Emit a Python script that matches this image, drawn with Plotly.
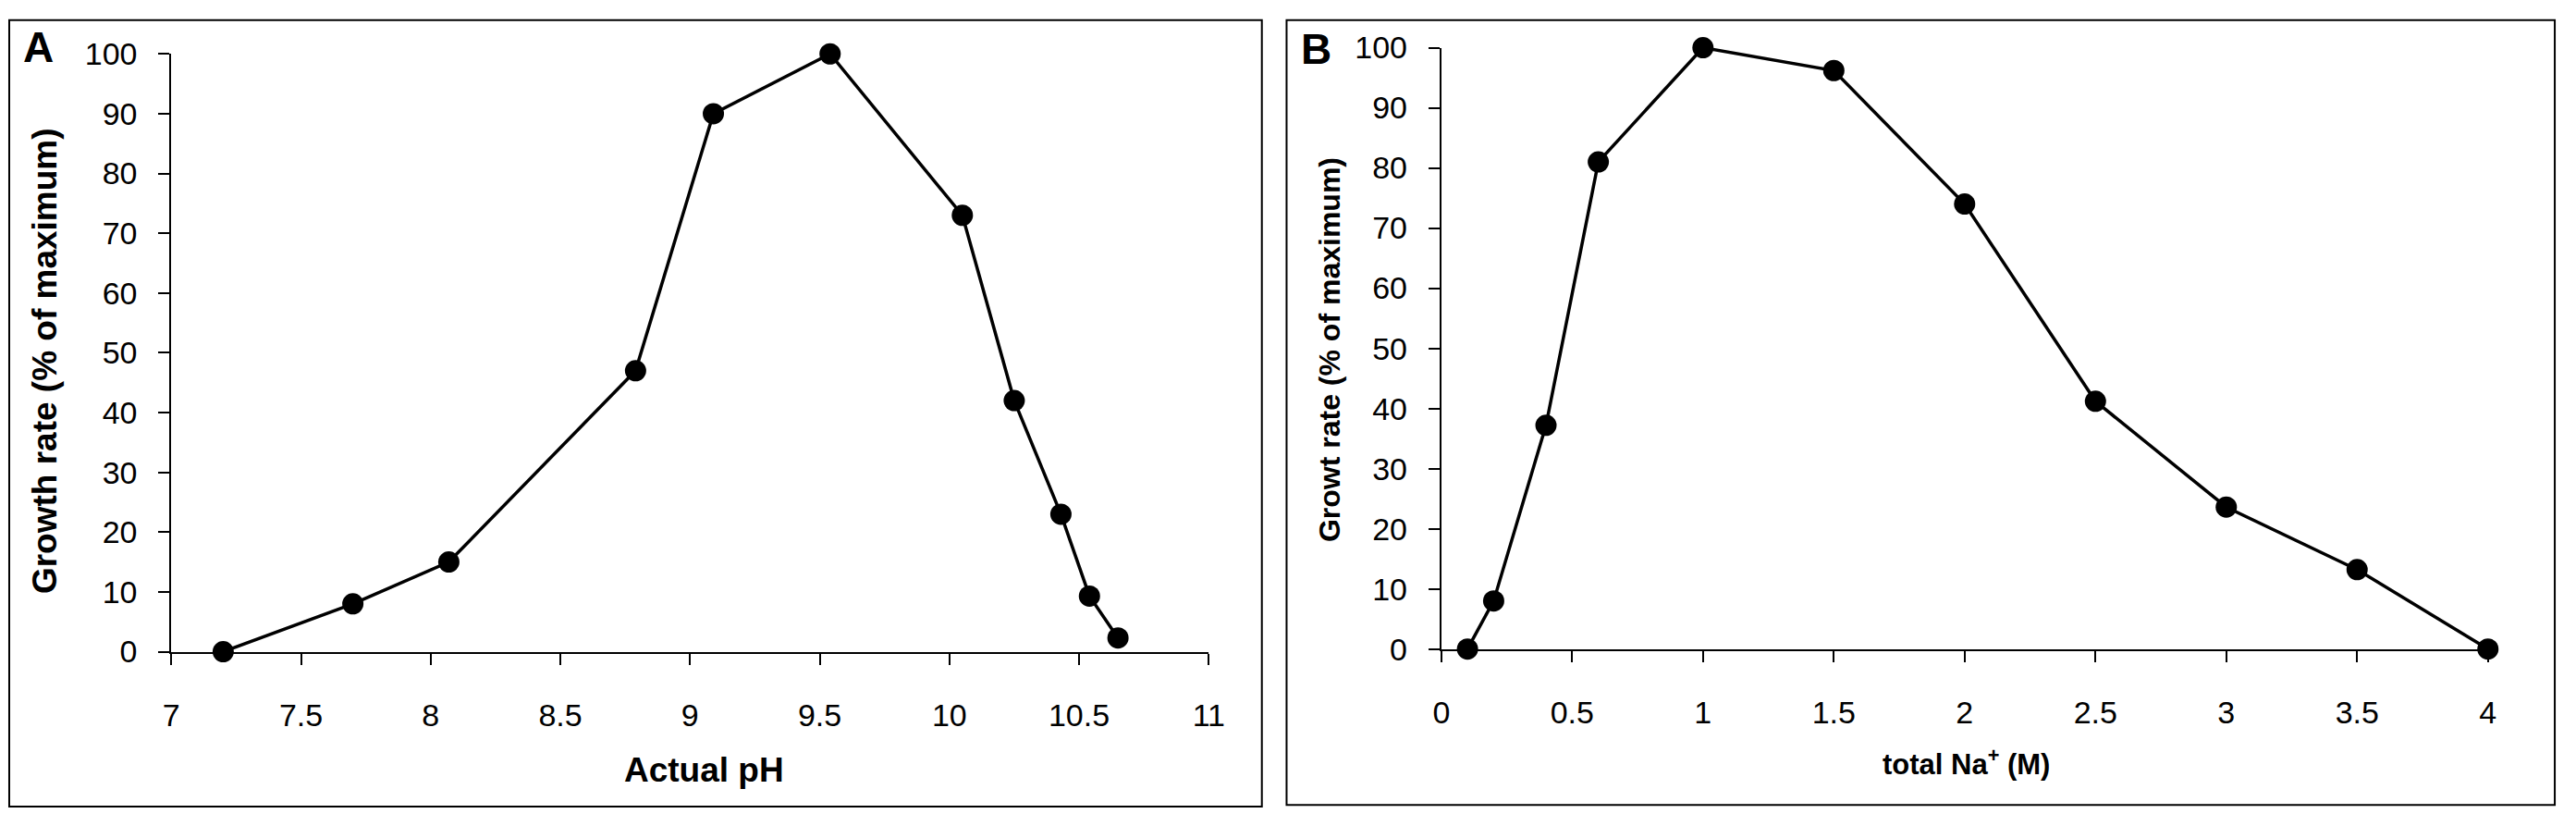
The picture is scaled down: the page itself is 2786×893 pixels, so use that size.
import plotly.graph_objects as go

# Panel A data: growth vs actual pH
ph_values = [7.2, 7.70, 8.07, 8.79, 9.09, 9.54, 10.05, 10.25, 10.43, 10.54, 10.65]
growth_ph = [0, 8, 15, 47, 90, 100, 73, 42, 23, 9.3, 2.3]

# Panel B data: growth vs total Na+
na_values = [0.1, 0.2, 0.4, 0.6, 1.0, 1.5, 2.0, 2.5, 3.0, 3.5, 4.0]
growth_na = [0, 8, 37.2, 81, 100, 96.2, 74, 41.2, 23.6, 13.2, 0]

ph_ticks = [7, 7.5, 8, 8.5, 9, 9.5, 10, 10.5, 11]
ph_ticklabels = ["7", "7.5", "8", "8.5", "9", "9.5", "10", "10.5", "11"]
na_ticks = [0, 0.5, 1, 1.5, 2, 2.5, 3, 3.5, 4]
na_ticklabels = ["0", "0.5", "1", "1.5", "2", "2.5", "3", "3.5", "4"]
y_ticks = [0, 10, 20, 30, 40, 50, 60, 70, 80, 90, 100]

W, H = 2786, 893
FONT = "Liberation Sans, Arial, Helvetica, sans-serif"

def px(x):
    return x / W

def py(y):
    return (H - y) / H

fig = go.Figure()

line_style = dict(color="black", width=3.5)
marker_style = dict(color="black", size=23, symbol="circle")

fig.add_trace(go.Scatter(x=ph_values, y=growth_ph, mode="lines+markers",
                         line=line_style, marker=marker_style,
                         xaxis="x", yaxis="y", cliponaxis=False, showlegend=False))
fig.add_trace(go.Scatter(x=na_values, y=growth_na, mode="lines+markers",
                         line=line_style, marker=marker_style,
                         xaxis="x2", yaxis="y2", cliponaxis=False, showlegend=False))

axis_common = dict(showgrid=False, zeroline=False, showline=True, linecolor="black",
                   linewidth=2, ticks="outside", ticklen=12, tickwidth=2, tickcolor="black",
                   tickfont=dict(family=FONT, size=34, color="black"))

fig.update_layout(
    width=W, height=H,
    margin=dict(l=0, r=0, t=0, b=0),
    paper_bgcolor="white", plot_bgcolor="white",
    xaxis=dict(domain=[px(178), px(1311)], range=[7, 11], tickvals=ph_ticks,
               ticktext=ph_ticklabels, anchor="y", ticklabelstandoff=26, **axis_common),
    yaxis=dict(domain=[py(716), py(41)], range=[0, 100], tickvals=y_ticks,
               anchor="x", ticklabelstandoff=16, **axis_common),
    xaxis2=dict(domain=[px(1565), px(2708)], range=[0, 4], tickvals=na_ticks,
                ticktext=na_ticklabels, anchor="y2", ticklabelstandoff=26, **axis_common),
    yaxis2=dict(domain=[py(713), py(34)], range=[0, 100], tickvals=y_ticks,
                anchor="x2", ticklabelstandoff=16, **axis_common),
)

# Panel borders
fig.add_shape(type="rect", xref="paper", yref="paper",
              x0=px(1), x1=px(1369), y0=py(891), y1=py(3),
              line=dict(color="black", width=2))
fig.add_shape(type="rect", xref="paper", yref="paper",
              x0=px(1396), x1=px(2781), y0=py(889), y1=py(3),
              line=dict(color="black", width=2))

font_a = dict(family=FONT, size=37, color="black", weight="bold")
font_b = dict(family=FONT, size=32, color="black", weight="bold")
font_bx = dict(family=FONT, size=31, color="black", weight="bold")
letter_font = dict(family=FONT, size=46, color="black", weight="bold")

annotations = [
    dict(text="Actual pH", x=px(760), y=py(850), font=font_a),
    dict(text="Growth rate (% of maximum)", x=px(40), y=py(388), textangle=-90, font=font_a),
    dict(text="total Na<sup>+</sup> (M)", x=px(2138), y=py(841), font=font_bx),
    dict(text="Growt rate (% of maximum)", x=px(1443), y=py(375), textangle=-90, font=font_b),
    dict(text="A", x=px(33), y=py(33), font=letter_font),
    dict(text="B", x=px(1428), y=py(36), font=letter_font),
]
for a in annotations:
    fig.add_annotation(xref="paper", yref="paper", showarrow=False,
                       xanchor="center", yanchor="middle", **a)

fig.write_html(
    "out.html",
    config={"displayModeBar": False},
    post_script="document.body.style.margin='0';document.body.style.overflow='hidden';",
)
